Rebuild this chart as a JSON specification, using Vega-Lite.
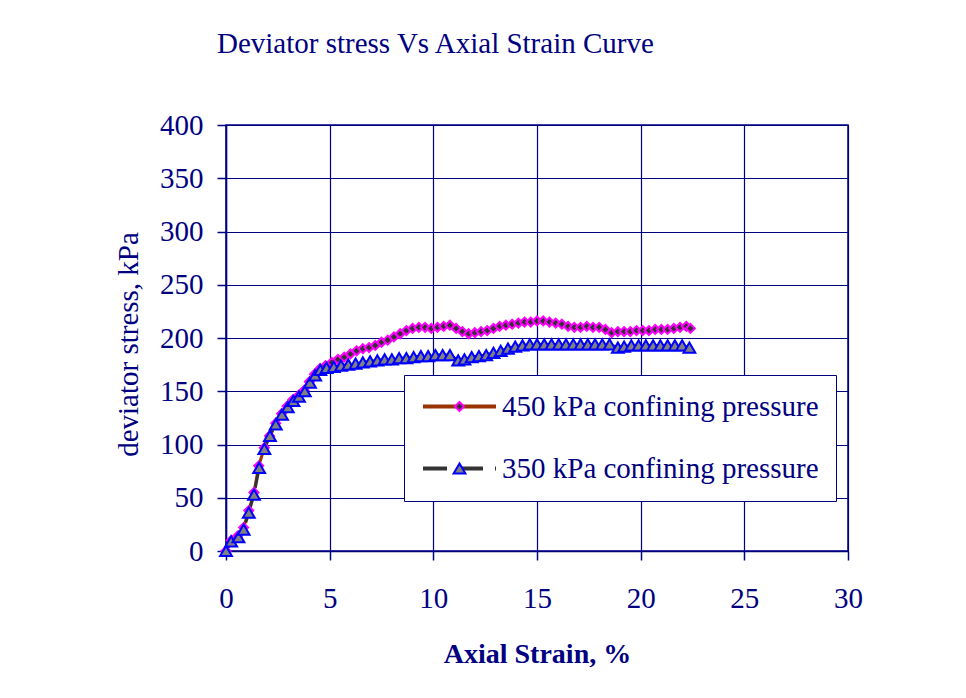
{
  "$schema": "https://vega.github.io/schema/vega-lite/v6.json",
  "autosize": {"type": "none"},
  "padding": {"left": 226, "top": 125, "right": 118, "bottom": 147},
  "width": 622,
  "height": 426,
  "background": "white",
  "title": {
    "text": "Deviator stress Vs Axial Strain Curve",
    "anchor": "start",
    "frame": "group",
    "dx": -9,
    "offset": 29,
    "baseline": "alphabetic",
    "font": "Liberation Serif",
    "fontSize": 29,
    "fontWeight": "normal",
    "color": "#000080"
  },
  "config": {
    "view": {"stroke": "#000080", "strokeWidth": 1.5},
    "axis": {
      "grid": true,
      "gridColor": "#000080",
      "gridWidth": 1.2,
      "gridOpacity": 1,
      "domainColor": "#000080",
      "domainWidth": 1.5,
      "tickColor": "#000080",
      "tickSize": 9,
      "tickWidth": 1.5,
      "labelFont": "Liberation Serif",
      "labelFontSize": 29,
      "labelColor": "#000080",
      "labelFlush": false,
      "labelOverlap": false,
      "titleFont": "Liberation Serif",
      "titleColor": "#000080"
    }
  },
  "data": {
    "values": [
      {"strain": 0.0, "stress": 0, "pressure": "450 kPa confining pressure", "series": "450 kPa confining pressure"},
      {"strain": 0.25, "stress": 10, "pressure": "450 kPa confining pressure", "series": "450 kPa confining pressure"},
      {"strain": 0.55, "stress": 14, "pressure": "450 kPa confining pressure", "series": "450 kPa confining pressure"},
      {"strain": 0.85, "stress": 22, "pressure": "450 kPa confining pressure", "series": "450 kPa confining pressure"},
      {"strain": 1.1, "stress": 38, "pressure": "450 kPa confining pressure", "series": "450 kPa confining pressure"},
      {"strain": 1.35, "stress": 55, "pressure": "450 kPa confining pressure", "series": "450 kPa confining pressure"},
      {"strain": 1.58, "stress": 80, "pressure": "450 kPa confining pressure", "series": "450 kPa confining pressure"},
      {"strain": 1.85, "stress": 97, "pressure": "450 kPa confining pressure", "series": "450 kPa confining pressure"},
      {"strain": 2.1, "stress": 108, "pressure": "450 kPa confining pressure", "series": "450 kPa confining pressure"},
      {"strain": 2.4, "stress": 120, "pressure": "450 kPa confining pressure", "series": "450 kPa confining pressure"},
      {"strain": 2.68, "stress": 129, "pressure": "450 kPa confining pressure", "series": "450 kPa confining pressure"},
      {"strain": 2.95, "stress": 136, "pressure": "450 kPa confining pressure", "series": "450 kPa confining pressure"},
      {"strain": 3.22, "stress": 142, "pressure": "450 kPa confining pressure", "series": "450 kPa confining pressure"},
      {"strain": 3.5, "stress": 146, "pressure": "450 kPa confining pressure", "series": "450 kPa confining pressure"},
      {"strain": 3.77, "stress": 151, "pressure": "450 kPa confining pressure", "series": "450 kPa confining pressure"},
      {"strain": 4.02, "stress": 159, "pressure": "450 kPa confining pressure", "series": "450 kPa confining pressure"},
      {"strain": 4.27, "stress": 166, "pressure": "450 kPa confining pressure", "series": "450 kPa confining pressure"},
      {"strain": 4.52, "stress": 171, "pressure": "450 kPa confining pressure", "series": "450 kPa confining pressure"},
      {"strain": 4.8, "stress": 174, "pressure": "450 kPa confining pressure", "series": "450 kPa confining pressure"},
      {"strain": 5.1, "stress": 177, "pressure": "450 kPa confining pressure", "series": "450 kPa confining pressure"},
      {"strain": 5.4, "stress": 180, "pressure": "450 kPa confining pressure", "series": "450 kPa confining pressure"},
      {"strain": 5.7, "stress": 182, "pressure": "450 kPa confining pressure", "series": "450 kPa confining pressure"},
      {"strain": 6.0, "stress": 185, "pressure": "450 kPa confining pressure", "series": "450 kPa confining pressure"},
      {"strain": 6.3, "stress": 188, "pressure": "450 kPa confining pressure", "series": "450 kPa confining pressure"},
      {"strain": 6.6, "stress": 190, "pressure": "450 kPa confining pressure", "series": "450 kPa confining pressure"},
      {"strain": 6.9, "stress": 191, "pressure": "450 kPa confining pressure", "series": "450 kPa confining pressure"},
      {"strain": 7.2, "stress": 193, "pressure": "450 kPa confining pressure", "series": "450 kPa confining pressure"},
      {"strain": 7.5, "stress": 196, "pressure": "450 kPa confining pressure", "series": "450 kPa confining pressure"},
      {"strain": 7.8, "stress": 198, "pressure": "450 kPa confining pressure", "series": "450 kPa confining pressure"},
      {"strain": 8.1, "stress": 201, "pressure": "450 kPa confining pressure", "series": "450 kPa confining pressure"},
      {"strain": 8.4, "stress": 204, "pressure": "450 kPa confining pressure", "series": "450 kPa confining pressure"},
      {"strain": 8.7, "stress": 207, "pressure": "450 kPa confining pressure", "series": "450 kPa confining pressure"},
      {"strain": 9.0, "stress": 209, "pressure": "450 kPa confining pressure", "series": "450 kPa confining pressure"},
      {"strain": 9.3, "stress": 210, "pressure": "450 kPa confining pressure", "series": "450 kPa confining pressure"},
      {"strain": 9.6, "stress": 210, "pressure": "450 kPa confining pressure", "series": "450 kPa confining pressure"},
      {"strain": 9.9, "stress": 209, "pressure": "450 kPa confining pressure", "series": "450 kPa confining pressure"},
      {"strain": 10.2, "stress": 210, "pressure": "450 kPa confining pressure", "series": "450 kPa confining pressure"},
      {"strain": 10.5, "stress": 211, "pressure": "450 kPa confining pressure", "series": "450 kPa confining pressure"},
      {"strain": 10.8, "stress": 212, "pressure": "450 kPa confining pressure", "series": "450 kPa confining pressure"},
      {"strain": 11.1, "stress": 209, "pressure": "450 kPa confining pressure", "series": "450 kPa confining pressure"},
      {"strain": 11.4, "stress": 206, "pressure": "450 kPa confining pressure", "series": "450 kPa confining pressure"},
      {"strain": 11.7, "stress": 204, "pressure": "450 kPa confining pressure", "series": "450 kPa confining pressure"},
      {"strain": 12.0, "stress": 205, "pressure": "450 kPa confining pressure", "series": "450 kPa confining pressure"},
      {"strain": 12.3, "stress": 206, "pressure": "450 kPa confining pressure", "series": "450 kPa confining pressure"},
      {"strain": 12.6, "stress": 207, "pressure": "450 kPa confining pressure", "series": "450 kPa confining pressure"},
      {"strain": 12.9, "stress": 209, "pressure": "450 kPa confining pressure", "series": "450 kPa confining pressure"},
      {"strain": 13.2, "stress": 211, "pressure": "450 kPa confining pressure", "series": "450 kPa confining pressure"},
      {"strain": 13.5, "stress": 212, "pressure": "450 kPa confining pressure", "series": "450 kPa confining pressure"},
      {"strain": 13.8, "stress": 213, "pressure": "450 kPa confining pressure", "series": "450 kPa confining pressure"},
      {"strain": 14.1, "stress": 214, "pressure": "450 kPa confining pressure", "series": "450 kPa confining pressure"},
      {"strain": 14.4, "stress": 215, "pressure": "450 kPa confining pressure", "series": "450 kPa confining pressure"},
      {"strain": 14.7, "stress": 215, "pressure": "450 kPa confining pressure", "series": "450 kPa confining pressure"},
      {"strain": 15.0, "stress": 216, "pressure": "450 kPa confining pressure", "series": "450 kPa confining pressure"},
      {"strain": 15.3, "stress": 216, "pressure": "450 kPa confining pressure", "series": "450 kPa confining pressure"},
      {"strain": 15.6, "stress": 215, "pressure": "450 kPa confining pressure", "series": "450 kPa confining pressure"},
      {"strain": 15.9, "stress": 214, "pressure": "450 kPa confining pressure", "series": "450 kPa confining pressure"},
      {"strain": 16.2, "stress": 213, "pressure": "450 kPa confining pressure", "series": "450 kPa confining pressure"},
      {"strain": 16.5, "stress": 211, "pressure": "450 kPa confining pressure", "series": "450 kPa confining pressure"},
      {"strain": 16.8, "stress": 210, "pressure": "450 kPa confining pressure", "series": "450 kPa confining pressure"},
      {"strain": 17.1, "stress": 210, "pressure": "450 kPa confining pressure", "series": "450 kPa confining pressure"},
      {"strain": 17.4, "stress": 211, "pressure": "450 kPa confining pressure", "series": "450 kPa confining pressure"},
      {"strain": 17.7, "stress": 210, "pressure": "450 kPa confining pressure", "series": "450 kPa confining pressure"},
      {"strain": 18.0, "stress": 210, "pressure": "450 kPa confining pressure", "series": "450 kPa confining pressure"},
      {"strain": 18.3, "stress": 208, "pressure": "450 kPa confining pressure", "series": "450 kPa confining pressure"},
      {"strain": 18.6, "stress": 205, "pressure": "450 kPa confining pressure", "series": "450 kPa confining pressure"},
      {"strain": 18.9, "stress": 206, "pressure": "450 kPa confining pressure", "series": "450 kPa confining pressure"},
      {"strain": 19.2, "stress": 206, "pressure": "450 kPa confining pressure", "series": "450 kPa confining pressure"},
      {"strain": 19.5, "stress": 206, "pressure": "450 kPa confining pressure", "series": "450 kPa confining pressure"},
      {"strain": 19.8, "stress": 207, "pressure": "450 kPa confining pressure", "series": "450 kPa confining pressure"},
      {"strain": 20.1, "stress": 207, "pressure": "450 kPa confining pressure", "series": "450 kPa confining pressure"},
      {"strain": 20.4, "stress": 207, "pressure": "450 kPa confining pressure", "series": "450 kPa confining pressure"},
      {"strain": 20.7, "stress": 208, "pressure": "450 kPa confining pressure", "series": "450 kPa confining pressure"},
      {"strain": 21.0, "stress": 208, "pressure": "450 kPa confining pressure", "series": "450 kPa confining pressure"},
      {"strain": 21.3, "stress": 208, "pressure": "450 kPa confining pressure", "series": "450 kPa confining pressure"},
      {"strain": 21.6, "stress": 209, "pressure": "450 kPa confining pressure", "series": "450 kPa confining pressure"},
      {"strain": 21.9, "stress": 210, "pressure": "450 kPa confining pressure", "series": "450 kPa confining pressure"},
      {"strain": 22.2, "stress": 211, "pressure": "450 kPa confining pressure", "series": "450 kPa confining pressure"},
      {"strain": 22.4, "stress": 209, "pressure": "450 kPa confining pressure", "series": "450 kPa confining pressure"},
      {"strain": 0.0, "stress": 0, "pressure": "350 kPa confining pressure", "series": "350 kPa confining pressure"},
      {"strain": 0.25, "stress": 9, "pressure": "350 kPa confining pressure", "series": "350 kPa confining pressure"},
      {"strain": 0.6, "stress": 13, "pressure": "350 kPa confining pressure", "series": "350 kPa confining pressure"},
      {"strain": 0.85, "stress": 20, "pressure": "350 kPa confining pressure", "series": "350 kPa confining pressure"},
      {"strain": 1.1, "stress": 36, "pressure": "350 kPa confining pressure", "series": "350 kPa confining pressure"},
      {"strain": 1.35, "stress": 53, "pressure": "350 kPa confining pressure", "series": "350 kPa confining pressure"},
      {"strain": 1.6, "stress": 78, "pressure": "350 kPa confining pressure", "series": "350 kPa confining pressure"},
      {"strain": 1.85, "stress": 96, "pressure": "350 kPa confining pressure", "series": "350 kPa confining pressure"},
      {"strain": 2.12, "stress": 108, "pressure": "350 kPa confining pressure", "series": "350 kPa confining pressure"},
      {"strain": 2.4, "stress": 119, "pressure": "350 kPa confining pressure", "series": "350 kPa confining pressure"},
      {"strain": 2.7, "stress": 128, "pressure": "350 kPa confining pressure", "series": "350 kPa confining pressure"},
      {"strain": 2.98, "stress": 135, "pressure": "350 kPa confining pressure", "series": "350 kPa confining pressure"},
      {"strain": 3.25, "stress": 141, "pressure": "350 kPa confining pressure", "series": "350 kPa confining pressure"},
      {"strain": 3.52, "stress": 145, "pressure": "350 kPa confining pressure", "series": "350 kPa confining pressure"},
      {"strain": 3.8, "stress": 150, "pressure": "350 kPa confining pressure", "series": "350 kPa confining pressure"},
      {"strain": 4.05, "stress": 158, "pressure": "350 kPa confining pressure", "series": "350 kPa confining pressure"},
      {"strain": 4.3, "stress": 165, "pressure": "350 kPa confining pressure", "series": "350 kPa confining pressure"},
      {"strain": 4.55, "stress": 170, "pressure": "350 kPa confining pressure", "series": "350 kPa confining pressure"},
      {"strain": 4.85, "stress": 172, "pressure": "350 kPa confining pressure", "series": "350 kPa confining pressure"},
      {"strain": 5.2, "stress": 173, "pressure": "350 kPa confining pressure", "series": "350 kPa confining pressure"},
      {"strain": 5.55, "stress": 174, "pressure": "350 kPa confining pressure", "series": "350 kPa confining pressure"},
      {"strain": 5.9, "stress": 175, "pressure": "350 kPa confining pressure", "series": "350 kPa confining pressure"},
      {"strain": 6.25, "stress": 176, "pressure": "350 kPa confining pressure", "series": "350 kPa confining pressure"},
      {"strain": 6.6, "stress": 177, "pressure": "350 kPa confining pressure", "series": "350 kPa confining pressure"},
      {"strain": 6.95, "stress": 178, "pressure": "350 kPa confining pressure", "series": "350 kPa confining pressure"},
      {"strain": 7.3, "stress": 179, "pressure": "350 kPa confining pressure", "series": "350 kPa confining pressure"},
      {"strain": 7.65, "stress": 180, "pressure": "350 kPa confining pressure", "series": "350 kPa confining pressure"},
      {"strain": 8.0, "stress": 180, "pressure": "350 kPa confining pressure", "series": "350 kPa confining pressure"},
      {"strain": 8.35, "stress": 181, "pressure": "350 kPa confining pressure", "series": "350 kPa confining pressure"},
      {"strain": 8.7, "stress": 181, "pressure": "350 kPa confining pressure", "series": "350 kPa confining pressure"},
      {"strain": 9.05, "stress": 182, "pressure": "350 kPa confining pressure", "series": "350 kPa confining pressure"},
      {"strain": 9.4, "stress": 183, "pressure": "350 kPa confining pressure", "series": "350 kPa confining pressure"},
      {"strain": 9.75, "stress": 183, "pressure": "350 kPa confining pressure", "series": "350 kPa confining pressure"},
      {"strain": 10.1, "stress": 184, "pressure": "350 kPa confining pressure", "series": "350 kPa confining pressure"},
      {"strain": 10.45, "stress": 184, "pressure": "350 kPa confining pressure", "series": "350 kPa confining pressure"},
      {"strain": 10.8, "stress": 184, "pressure": "350 kPa confining pressure", "series": "350 kPa confining pressure"},
      {"strain": 11.2, "stress": 179, "pressure": "350 kPa confining pressure", "series": "350 kPa confining pressure"},
      {"strain": 11.5, "stress": 180, "pressure": "350 kPa confining pressure", "series": "350 kPa confining pressure"},
      {"strain": 11.85, "stress": 182, "pressure": "350 kPa confining pressure", "series": "350 kPa confining pressure"},
      {"strain": 12.2, "stress": 183, "pressure": "350 kPa confining pressure", "series": "350 kPa confining pressure"},
      {"strain": 12.55, "stress": 184, "pressure": "350 kPa confining pressure", "series": "350 kPa confining pressure"},
      {"strain": 12.9, "stress": 186, "pressure": "350 kPa confining pressure", "series": "350 kPa confining pressure"},
      {"strain": 13.25, "stress": 188, "pressure": "350 kPa confining pressure", "series": "350 kPa confining pressure"},
      {"strain": 13.6, "stress": 190, "pressure": "350 kPa confining pressure", "series": "350 kPa confining pressure"},
      {"strain": 13.95, "stress": 192, "pressure": "350 kPa confining pressure", "series": "350 kPa confining pressure"},
      {"strain": 14.3, "stress": 193, "pressure": "350 kPa confining pressure", "series": "350 kPa confining pressure"},
      {"strain": 14.65, "stress": 194, "pressure": "350 kPa confining pressure", "series": "350 kPa confining pressure"},
      {"strain": 15.0, "stress": 194, "pressure": "350 kPa confining pressure", "series": "350 kPa confining pressure"},
      {"strain": 15.35, "stress": 194, "pressure": "350 kPa confining pressure", "series": "350 kPa confining pressure"},
      {"strain": 15.7, "stress": 194, "pressure": "350 kPa confining pressure", "series": "350 kPa confining pressure"},
      {"strain": 16.05, "stress": 194, "pressure": "350 kPa confining pressure", "series": "350 kPa confining pressure"},
      {"strain": 16.4, "stress": 194, "pressure": "350 kPa confining pressure", "series": "350 kPa confining pressure"},
      {"strain": 16.75, "stress": 194, "pressure": "350 kPa confining pressure", "series": "350 kPa confining pressure"},
      {"strain": 17.1, "stress": 194, "pressure": "350 kPa confining pressure", "series": "350 kPa confining pressure"},
      {"strain": 17.45, "stress": 194, "pressure": "350 kPa confining pressure", "series": "350 kPa confining pressure"},
      {"strain": 17.8, "stress": 194, "pressure": "350 kPa confining pressure", "series": "350 kPa confining pressure"},
      {"strain": 18.15, "stress": 194, "pressure": "350 kPa confining pressure", "series": "350 kPa confining pressure"},
      {"strain": 18.5, "stress": 194, "pressure": "350 kPa confining pressure", "series": "350 kPa confining pressure"},
      {"strain": 18.9, "stress": 191, "pressure": "350 kPa confining pressure", "series": "350 kPa confining pressure"},
      {"strain": 19.2, "stress": 192, "pressure": "350 kPa confining pressure", "series": "350 kPa confining pressure"},
      {"strain": 19.55, "stress": 193, "pressure": "350 kPa confining pressure", "series": "350 kPa confining pressure"},
      {"strain": 19.9, "stress": 193, "pressure": "350 kPa confining pressure", "series": "350 kPa confining pressure"},
      {"strain": 20.25, "stress": 193, "pressure": "350 kPa confining pressure", "series": "350 kPa confining pressure"},
      {"strain": 20.6, "stress": 193, "pressure": "350 kPa confining pressure", "series": "350 kPa confining pressure"},
      {"strain": 20.95, "stress": 193, "pressure": "350 kPa confining pressure", "series": "350 kPa confining pressure"},
      {"strain": 21.3, "stress": 193, "pressure": "350 kPa confining pressure", "series": "350 kPa confining pressure"},
      {"strain": 21.65, "stress": 193, "pressure": "350 kPa confining pressure", "series": "350 kPa confining pressure"},
      {"strain": 22.0, "stress": 193, "pressure": "350 kPa confining pressure", "series": "350 kPa confining pressure"},
      {"strain": 22.35, "stress": 191, "pressure": "350 kPa confining pressure", "series": "350 kPa confining pressure"}
    ]
  },
  "encoding": {
    "x": {
      "field": "strain",
      "type": "quantitative",
      "scale": {"domain": [0, 30], "nice": false},
      "axis": {
        "title": "Axial Strain, %",
        "values": [0, 5, 10, 15, 20, 25, 30],
        "labelPadding": 24,
        "titleFontSize": 28,
        "titleFontWeight": "bold",
        "titlePadding": 27
      }
    },
    "y": {
      "field": "stress",
      "type": "quantitative",
      "scale": {"domain": [0, 400], "nice": false},
      "axis": {
        "title": "deviator stress, kPa",
        "values": [0, 50, 100, 150, 200, 250, 300, 350, 400],
        "labelPadding": 14,
        "titleFontSize": 29,
        "titleFontWeight": "normal",
        "titlePadding": 16,
        "titleY": 219
      }
    }
  },
  "layer": [
    {
      "mark": {"type": "line", "strokeWidth": 3},
      "encoding": {
        "color": {
          "field": "pressure",
          "type": "nominal",
          "scale": {
            "domain": ["450 kPa confining pressure", "350 kPa confining pressure"],
            "range": ["#993300", "#333333"]
          },
          "legend": {
            "title": null,
            "orient": "none",
            "legendX": 178,
            "legendY": 250,
            "padding": 17,
            "strokeColor": "#000080",
            "fillColor": "white",
            "symbolType": "stroke",
            "symbolSize": 5329,
            "symbolStrokeWidth": 4,
            "clipHeight": 29,
            "labelFont": "Liberation Serif",
            "labelFontSize": 29,
            "labelColor": "#000080",
            "labelOffset": 4,
            "labelLimit": 0,
            "rowPadding": 32
          }
        },
        "strokeDash": {
          "field": "pressure",
          "type": "nominal",
          "scale": {
            "domain": ["450 kPa confining pressure", "350 kPa confining pressure"],
            "range": [[1, 0], [24, 12]]
          },
          "legend": {
            "title": null,
            "orient": "none",
            "legendX": 178,
            "legendY": 250,
            "padding": 17,
            "strokeColor": "#000080",
            "fillColor": "white",
            "symbolType": "stroke",
            "symbolSize": 5329,
            "symbolStrokeWidth": 4,
            "clipHeight": 29,
            "labelFont": "Liberation Serif",
            "labelFontSize": 29,
            "labelColor": "#000080",
            "labelOffset": 4,
            "labelLimit": 0,
            "rowPadding": 32
          }
        }
      }
    },
    {
      "mark": {"type": "point", "strokeWidth": 2, "opacity": 1},
      "encoding": {
        "shape": {
          "field": "series",
          "type": "nominal",
          "sort": "descending",
          "scale": {"range": ["diamond", "triangle-up"]},
          "legend": {
            "title": null,
            "orient": "none",
            "legendX": 202,
            "legendY": 250,
            "padding": 17,
            "symbolStrokeWidth": 2,
            "labelFont": "Liberation Serif",
            "labelFontSize": 29,
            "labelOpacity": 0,
            "labelExpr": "' '",
            "labelLimit": 0,
            "rowPadding": 32
          }
        },
        "fill": {
          "field": "series",
          "type": "nominal",
          "sort": "descending",
          "scale": {"range": ["#333333", "#808080"]},
          "legend": {
            "title": null,
            "orient": "none",
            "legendX": 202,
            "legendY": 250,
            "padding": 17,
            "symbolStrokeWidth": 2,
            "labelFont": "Liberation Serif",
            "labelFontSize": 29,
            "labelOpacity": 0,
            "labelExpr": "' '",
            "labelLimit": 0,
            "rowPadding": 32
          }
        },
        "stroke": {
          "field": "series",
          "type": "nominal",
          "sort": "descending",
          "scale": {"range": ["#FF00FF", "#0000FF"]},
          "legend": {
            "title": null,
            "orient": "none",
            "legendX": 202,
            "legendY": 250,
            "padding": 17,
            "symbolStrokeWidth": 2,
            "labelFont": "Liberation Serif",
            "labelFontSize": 29,
            "labelOpacity": 0,
            "labelExpr": "' '",
            "labelLimit": 0,
            "rowPadding": 32
          }
        },
        "size": {
          "field": "series",
          "type": "nominal",
          "sort": "descending",
          "scale": {"range": [80, 140]},
          "legend": {
            "title": null,
            "orient": "none",
            "legendX": 202,
            "legendY": 250,
            "padding": 17,
            "symbolStrokeWidth": 2,
            "labelFont": "Liberation Serif",
            "labelFontSize": 29,
            "labelOpacity": 0,
            "labelExpr": "' '",
            "labelLimit": 0,
            "rowPadding": 32
          }
        }
      }
    }
  ]
}
